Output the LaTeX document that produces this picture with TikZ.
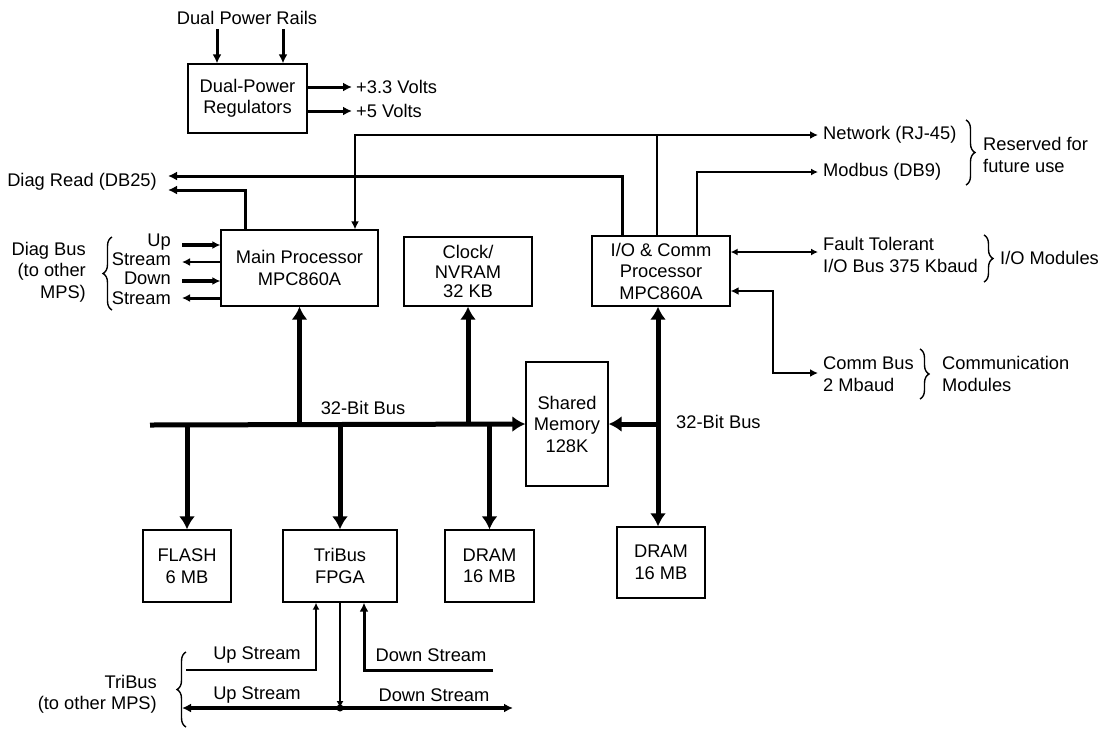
\documentclass[tikz,border=0pt]{standalone}
\usepackage{fontspec}
\setmainfont{Liberation Sans}
\usetikzlibrary{arrows.meta,decorations.pathreplacing}

\begin{document}
\begin{tikzpicture}[x=1pt,y=-1pt]
\tikzstyle{every node}=[font=\fontsize{18.3}{21.5}\selectfont, inner sep=0pt]
\tikzstyle{blk}=[draw, line width=1.3pt, align=center]
\tikzstyle{thinarr}=[line width=1.8pt, -{Latex[length=7pt,width=7pt]}]
\tikzstyle{medarr}=[line width=3pt, -{Latex[length=9pt,width=9pt]}]
\tikzstyle{busarr}=[line width=5pt, -{Latex[length=13pt,width=16pt]}]
\tikzstyle{brc}=[decorate, decoration={brace, amplitude=9pt}, line width=1.4pt]

% frame of the picture
\useasboundingbox (0,0) rectangle (1107,729);

% boxes
\node[blk, minimum width=119pt, minimum height=69pt] (reg) at (247.5,98.5) {Dual-Power\\Regulators};
\node[blk, minimum width=157pt, minimum height=76pt] (main) at (299.5,268) {Main Processor\\MPC860A};
\node[blk, minimum width=128pt, minimum height=69pt, font=\fontsize{18.3}{19.5}\selectfont] (clk) at (468,271.5) {Clock/\\NVRAM\\32 KB};
\node[blk, minimum width=138pt, minimum height=70pt] (io) at (661,271) {I/O \& Comm\\Processor\\MPC860A};
\node[blk, minimum width=82pt, minimum height=124pt] (shm) at (567,424) {Shared\\Memory\\128K};
\node[blk, minimum width=88pt, minimum height=72pt] (flash) at (187,566) {FLASH\\6 MB};
\node[blk, minimum width=114pt, minimum height=72pt] (fpga) at (340,566) {TriBus\\FPGA};
\node[blk, minimum width=89pt, minimum height=72pt] (dramA) at (489.5,566) {DRAM\\16 MB};
\node[blk, minimum width=88pt, minimum height=71pt] (dramB) at (661,562.5) {DRAM\\16 MB};

% labels
\node (rails) at (247,18) {Dual Power Rails};
\node[anchor=west] (v33) at (356,87) {+3.3 Volts};
\node[anchor=west] (v5) at (356,111) {+5 Volts};
\node[anchor=west] (net) at (823,135) {Network (RJ-45)};
\node[anchor=west] (modb) at (823,172) {Modbus (DB9)};
\node[anchor=west, align=left] (rsv) at (983,155) {Reserved for\\future use};
\node[anchor=east] (diagrd) at (157,182) {Diag Read (DB25)};
\node[anchor=east, align=right] (diagbus) at (86,272) {Diag Bus\\(to other\\MPS)};
\node[anchor=east, align=right, font=\fontsize{18.3}{19.3}\selectfont] (updown) at (171,269) {Up\\Stream\\Down\\Stream};
\node[anchor=west, align=left] (ftbus) at (823,255) {Fault Tolerant\\I/O Bus 375 Kbaud};
\node[anchor=west] (iomod) at (1000,258) {I/O Modules};
\node[anchor=west, align=left] (cbus) at (823,374) {Comm Bus\\2 Mbaud};
\node[anchor=west, align=left] (cmod) at (942,374) {Communication\\Modules};
\node (bitA) at (363,408) {32-Bit Bus};
\node[anchor=west] (bitB) at (676,422) {32-Bit Bus};
\node[anchor=east, align=right] (tribus) at (157,694) {TriBus\\(to other MPS)};
\node (upA) at (257,655) {Up Stream};
\node (downA) at (431,655) {Down Stream};
\node (upB) at (257,695) {Up Stream};
\node (downB) at (434,695) {Down Stream};

% free ends
\coordinate (busL) at (150,425);
\coordinate (railL) at (217,29);
\coordinate (railR) at (283,29);
\coordinate (cbk) at (773,373);
\coordinate (triL) at (182,708);
\coordinate (triR) at (513,708);

% power
\draw[medarr] (railL) -- (railL |- reg.north);
\draw[medarr] (railR) -- (railR |- reg.north);
\draw[medarr] (reg.east |- v33) -- ([xshift=-4pt]v33.west);
\draw[medarr] (reg.east |- v5) -- ([xshift=-4pt]v5.west);

% network, modbus, diag read
\draw[line width=2.6pt, {Latex[length=8pt,width=8pt]}-{Latex[length=8pt,width=8pt]}]
  ([xshift=55.5pt]main.north) |- ([xshift=-5pt]net.west);
\draw[line width=2.2pt] ([xshift=-4pt]io.north) -- ([xshift=-4pt]io.north |- net.west);
\draw[thinarr] ([xshift=36pt]io.north) |- ([xshift=-5pt]modb.west);
\draw[medarr] ([xshift=-39pt]io.north) |- ([xshift=11pt,yshift=6pt]diagrd.east);
\draw[medarr] ([xshift=-54.5pt]main.north) |- ([xshift=11pt,yshift=-8pt]diagrd.east);

% diag bus
\foreach \dy/\tip/\w in {23/->/3.2, 6/<-/2.6, -13/->/3.6, -30/<-/3}
  \draw[line width=\w pt, \tip, >={Latex[length=8pt,width=8pt]}]
    (182,268-\dy) -- ([yshift=\dy pt]main.west);

% fault tolerant and comm bus
\draw[line width=1.8pt, shorten >=5pt, {Latex[length=7pt,width=7pt]}-{Latex[length=7pt,width=7pt]}]
  ([yshift=19pt]io.east) -- ([yshift=19pt]io.east -| ftbus.west);
\draw[line width=2.4pt, shorten >=5pt, {Latex[length=8pt,width=8pt]}-{Latex[length=8pt,width=8pt]}]
  ([yshift=-20pt]io.east) -| (cbk) -- (cbk -| cbus.west);

% 32-bit buses
\draw[busarr] (busL) -- (shm.west);
\draw[busarr] (main.south |- busL) -- (main.south);
\draw[busarr] (clk.south |- busL) -- (clk.south);
\draw[busarr] (flash.north |- busL) -- (flash.north);
\draw[busarr] (fpga.north |- busL) -- (fpga.north);
\draw[busarr] (dramA.north |- busL) -- (dramA.north);
\draw[line width=5pt, {Latex[length=13pt,width=16pt]}-{Latex[length=13pt,width=16pt]}]
  ([xshift=-3pt]io.south) -- ([xshift=-3pt]dramB.north);
\draw[busarr] ([xshift=-3pt]io.south |- shm.east) -- (shm.east);

% tribus
\draw[thinarr] (186,670) -| ([xshift=-24pt]fpga.south);
\draw[medarr] (493,670) -| ([xshift=24pt]fpga.south);
\draw[thinarr] (fpga.south) -- (fpga.south |- triL);
\draw[line width=4pt, {Latex[length=9pt,width=9pt]}-{Latex[length=9pt,width=9pt]}] (triL) -- (triR);
\fill (fpga.south |- triL) circle (3.5pt);

% braces
\draw[brc] (112,310) -- (112,237);
\draw[brc] (966,120) -- (966,185);
\draw[brc] (984,235) -- (984,282);
\draw[brc] (920,349) -- (920,399);
\draw[brc] (186,727) -- (186,652);

\end{tikzpicture}
\end{document}
